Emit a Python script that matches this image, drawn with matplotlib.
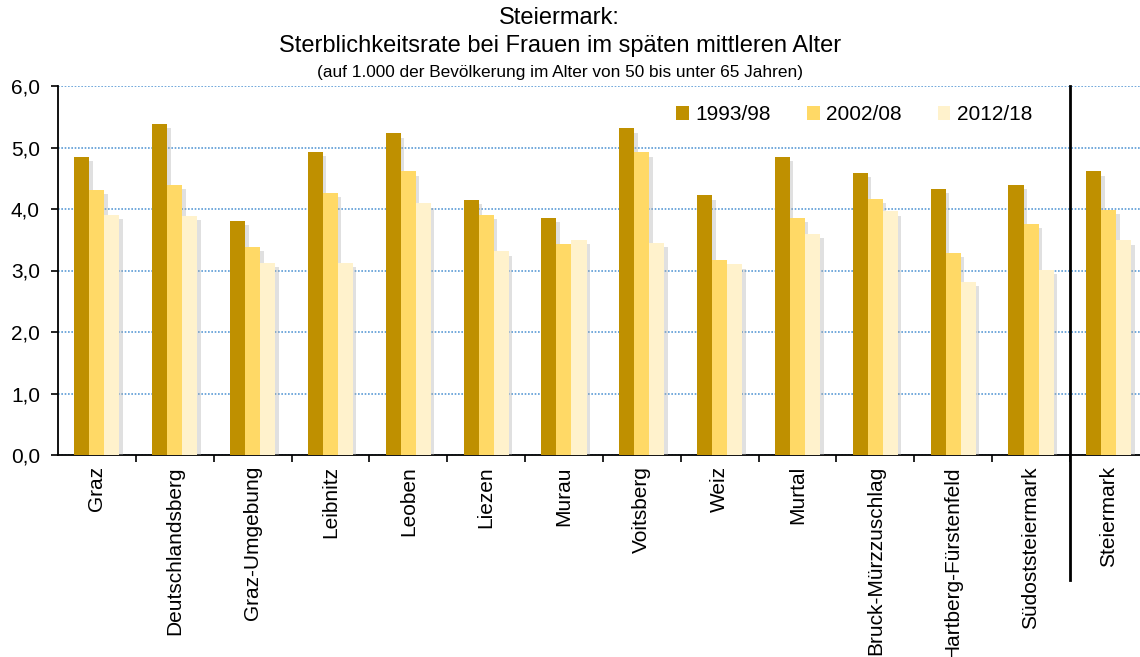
import matplotlib
matplotlib.use("Agg")
import matplotlib.pyplot as plt
import matplotlib.patheffects as pe
from matplotlib.ticker import FixedLocator, FuncFormatter
import numpy as np

plt.rcParams['font.family'] = ['Liberation Sans', 'DejaVu Sans']

regions = ["Graz", "Deutschlandsberg", "Graz-Umgebung", "Leibnitz", "Leoben",
           "Liezen", "Murau", "Voitsberg", "Weiz", "Murtal",
           "Bruck-Mürzzuschlag", "Hartberg-Fürstenfeld", "Südoststeiermark",
           "Steiermark"]
periods = ["1993/98", "2002/08", "2012/18"]
rate_1993_98 = [4.85, 5.39, 3.81, 4.93, 5.23, 4.15, 3.85, 5.31, 4.22, 4.85, 4.58, 4.33, 4.39, 4.61]
rate_2002_08 = [4.31, 4.39, 3.39, 4.26, 4.61, 3.90, 3.43, 4.92, 3.17, 3.85, 4.16, 3.29, 3.76, 3.98]
rate_2012_18 = [3.91, 3.89, 3.12, 3.12, 4.09, 3.31, 3.50, 3.45, 3.10, 3.59, 3.96, 2.82, 3.01, 3.49]
colors = ["#BF9000", "#FFD966", "#FFF2CC"]

W, H = 1140, 657
fig = plt.figure(figsize=(W / 100, H / 100), dpi=100)
left_px, right_px, top_px, bottom_px = 58, 1140, 86, 455
ax = fig.add_axes([left_px / W, 1 - bottom_px / H,
                   (right_px - left_px) / W, (bottom_px - top_px) / H])

x = np.arange(len(regions))
bw = 0.193
shadow = [pe.SimplePatchShadow(offset=(2.5, -3), shadow_rgbFace="#a8a8a8", alpha=0.35),
          pe.Normal()]
for i, (vals, col, lab) in enumerate(zip([rate_1993_98, rate_2002_08, rate_2012_18], colors, periods)):
    bars = ax.bar(x + (i - 1) * bw, vals, width=bw, color=col, label=lab,
                  edgecolor="none", zorder=3 + i * 0.1)
    for b in bars:
        b.set_path_effects(shadow)

ax.set_xlim(-0.5, 13.4)
ax.set_ylim(0, 6)

# grid lines
ax.yaxis.set_major_locator(FixedLocator(np.arange(0, 6.01, 1.0)))
ax.yaxis.set_major_formatter(FuncFormatter(lambda v, p: f"{v:.1f}".replace(".", ",")))
ax.grid(axis="y", color="#5B9BD5", linestyle=(0, (1, 1)), linewidth=1.2, zorder=0)
ax.set_axisbelow(True)

ax.spines["top"].set_visible(False)
ax.spines["right"].set_visible(False)
ax.spines["left"].set_linewidth(1.3)
ax.spines["bottom"].set_linewidth(1.3)

ax.set_xticks(x)
ax.set_xticklabels(regions, rotation=90, va="top", ha="center")
ax.set_xticks(np.arange(0.5, 13, 1.0), minor=True)
ax.tick_params(axis="x", which="major", length=0, labelsize=15, pad=8)
ax.tick_params(axis="x", which="minor", length=5, width=1.2, direction="out")
ax.tick_params(axis="y", length=5, width=1.2, labelsize=15, pad=8)

# separator between districts and the state total
ax.axvline(12.5, ymin=-0.339, ymax=1.0, color="black", linewidth=2, clip_on=False, zorder=5)

leg = ax.legend(ncol=3, loc="upper left", bbox_to_anchor=(668 / W, 1 - 97 / H),
                bbox_transform=fig.transFigure, frameon=False, fontsize=15,
                handlelength=0.6, handleheight=0.6, handletextpad=0.3,
                columnspacing=1.75, borderaxespad=0)
for h in leg.legend_handles:
    h.set_path_effects([])

fig.text(0.491, 1 - 18 / H, "Steiermark:", ha="center", va="center", fontsize=17)
fig.text(0.491, 1 - 46 / H, "Sterblichkeitsrate bei Frauen im späten mittleren Alter",
         ha="center", va="center", fontsize=17)
fig.text(0.491, 1 - 73 / H, "(auf 1.000 der Bevölkerung im Alter von 50 bis unter 65 Jahren)",
         ha="center", va="center", fontsize=12.4)

fig.savefig("out.png", dpi=100, facecolor="white")
